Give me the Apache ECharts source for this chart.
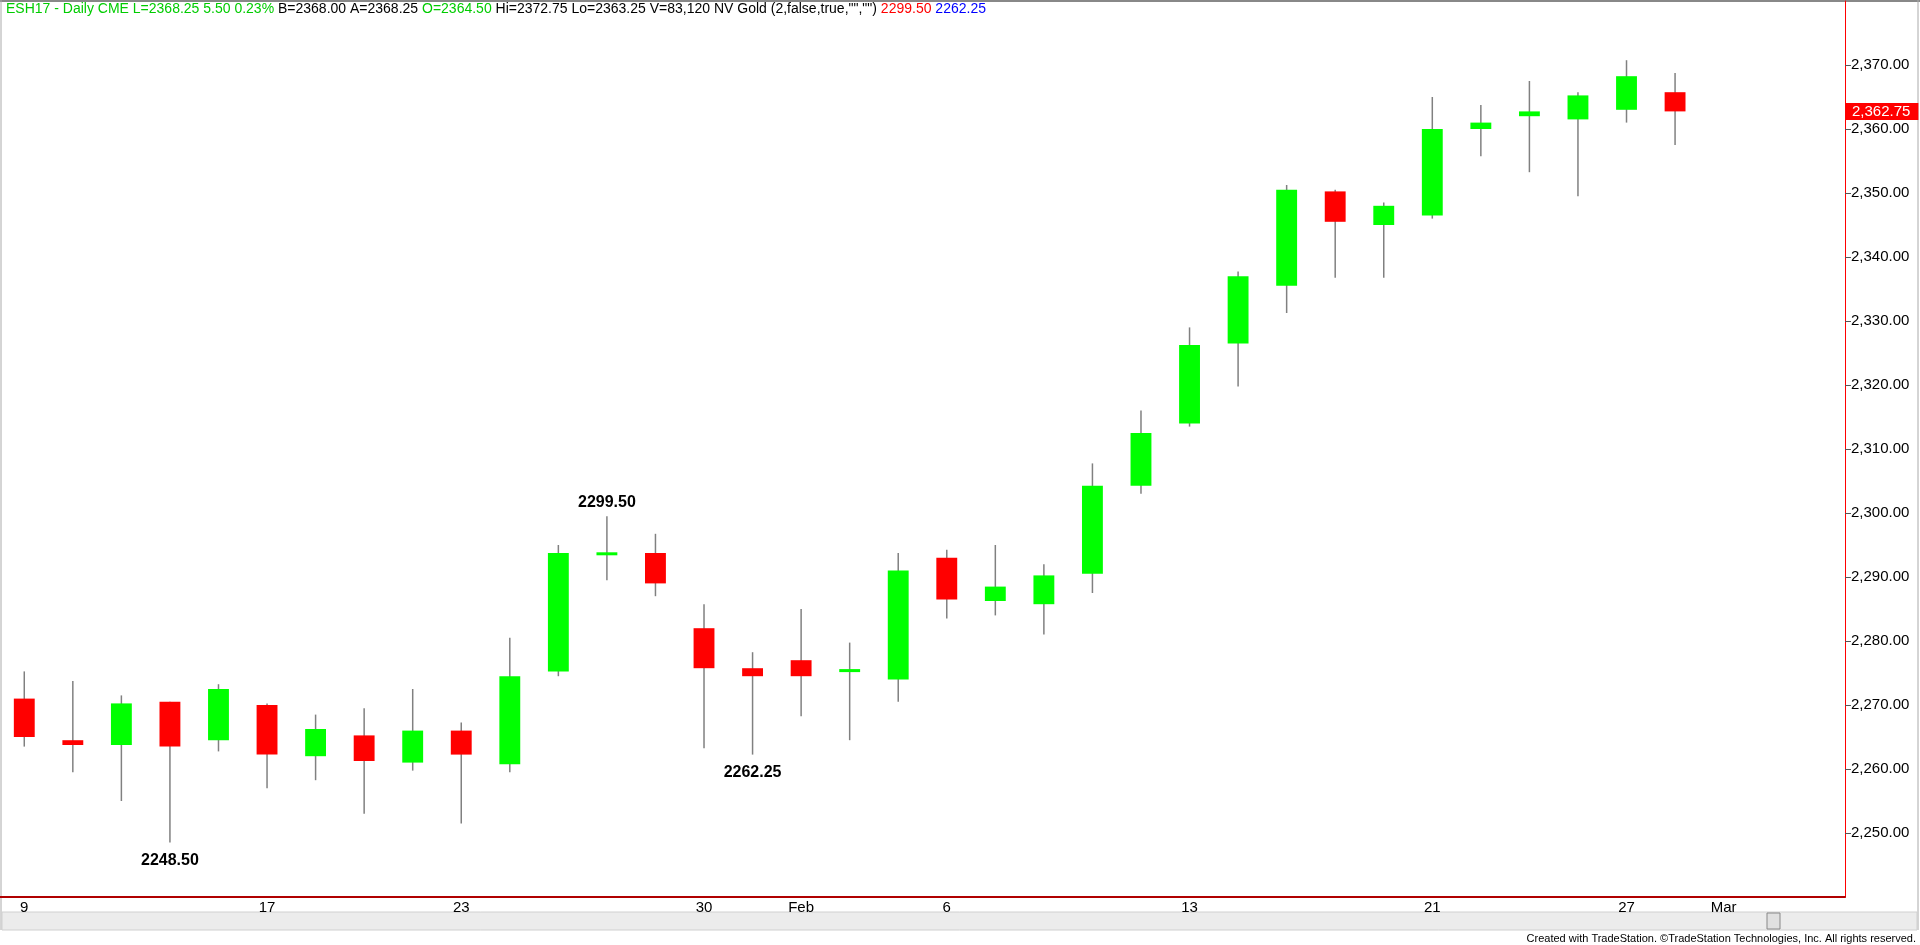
<!DOCTYPE html>
<html><head><meta charset="utf-8">
<script src="https://cdn.jsdelivr.net/npm/echarts@6/dist/echarts.min.js"></script>
<style>html,body{margin:0;padding:0;background:#fff;}#c{width:1920px;height:945px;}</style>
</head><body><div id="c"></div>
<script>
const categories = ["9","10","11","12","13a","17","18","19","20","23","24","25","26","27a","30","31","Feb","2","3","6","7","8","9b","10b","13","14","15","16","17b","21","22","23b","24b","27","28","Mar","2m","3m"];
const shownLabels = {"9":"9","17":"17","23":"23","30":"30","Feb":"Feb","6":"6","13":"13","21":"21","27":"27","Mar":"Mar"};
const opens  = [2271,2264.5,2263.75,2270.5,2264.5,2270,2262,2265.25,2261,2266,2260.75,2275.25,2293.5,2293.75,2282,2275.75,2277,2275.25,2274,2293,2286.25,2285.75,2290.5,2304.25,2314,2326.5,2335.5,2350.25,2345,2346.5,2360,2362,2361.5,2363,2365.75];
const closes = [2265,2263.75,2270.25,2263.5,2272.5,2262.25,2266.25,2261.25,2266,2262.25,2274.5,2293.75,2293.75,2289,2275.75,2274.5,2274.5,2275.5,2291,2286.5,2288.5,2290.25,2304.25,2312.5,2326.25,2337,2350.5,2345.5,2348,2360,2361,2362.75,2365.25,2368.25,2362.75];
const highs  = [2275.25,2273.75,2271.5,2270.5,2273.25,2270.25,2268.5,2269.5,2272.5,2267.25,2280.5,2295,2299.5,2296.75,2285.75,2278.25,2285,2279.75,2293.75,2294.25,2295,2292,2307.75,2316,2329,2337.75,2351.25,2350.5,2348.5,2365,2363.75,2367.5,2365.75,2370.75,2368.75];
const lows   = [2263.5,2259.5,2255,2248.5,2262.75,2257,2258.25,2253,2259.75,2251.5,2259.5,2274.5,2289.5,2287,2263.25,2262.25,2268.25,2264.5,2270.5,2283.5,2284,2281,2287.5,2303,2313.5,2319.75,2331.25,2336.75,2336.75,2346,2355.75,2353.25,2349.5,2361,2357.5];
const yTicksMin = 2240, yTicksMax = 2380, yStep = 10;
const lastPrice = 2362.75;
const notes = [{i:12,v:2299.5,t:"2299.50",pos:"top"},{i:3,v:2248.5,t:"2248.50",pos:"bottom"},{i:15,v:2262.25,t:"2262.25",pos:"bottom"}];

const data = opens.map((o,i)=>[i,o,closes[i],lows[i],highs[i]]);
const chart = echarts.init(document.getElementById('c'));
const F = '"Liberation Sans", Arial, sans-serif';
const fmt = v=>v.toLocaleString('en-US',{minimumFractionDigits:2,maximumFractionDigits:2});
const staticGraphics = [
    {type:'line',shape:{x1:0,y1:1,x2:1920,y2:1},style:{stroke:'#888',lineWidth:2}},
    {type:'line',shape:{x1:1,y1:0,x2:1,y2:930},style:{stroke:'#aaa',lineWidth:1}},
    {type:'line',shape:{x1:1918,y1:0,x2:1918,y2:930},style:{stroke:'#aaa',lineWidth:1}},
    {type:'rect',shape:{x:2,y:912,width:1915,height:18},style:{fill:'#ececec',stroke:'#d0d0d0'}},
    {type:'rect',shape:{x:1767,y:913,width:13,height:16},style:{fill:'#e0e0e0',stroke:'#888'}},
    {type:'text',left:6,top:2,style:{rich:{g:{fill:'#00cc00'},b:{fill:'#000'},r:{fill:'#ff0000'},u:{fill:'#0000ff'}},
      text:'{g|ESH17 - Daily CME L=2368.25 5.50 0.23%} {b|B=2368.00 A=2368.25} {g|O=2364.50} {b|Hi=2372.75 Lo=2363.25 V=83,120 NV Gold (2,false,true,"","")} {r|2299.50} {u|2262.25}',
      font:'14px "Liberation Sans", Arial',fill:'#000'}},
    {type:'text',right:4,bottom:1,style:{text:'Created with TradeStation. ©TradeStation Technologies, Inc. All rights reserved.',font:'11px "Liberation Sans", Arial',fill:'#000'}}
];
chart.setOption({
  animation:false,
  grid:{left:0,right:75,top:1,bottom:48},
  xAxis:{type:'category',data:categories,boundaryGap:true,
    axisLine:{lineStyle:{color:'#b00000',width:2}},
    axisTick:{alignWithLabel:true,length:6,lineStyle:{color:'#cc0000'},interval:(i,v)=>!!shownLabels[v]},
    axisLabel:{interval:(i,v)=>!!shownLabels[v],formatter:v=>shownLabels[v]||'',color:'#000',fontFamily:F,fontSize:15,margin:3},
    splitLine:{show:false}},
  yAxis:{type:'value',position:'right',min:yTicksMin,max:yTicksMax,interval:yStep,
    axisLine:{show:true,lineStyle:{color:'#ff0000',width:1}},
    axisTick:{show:true,length:6,lineStyle:{color:'#555'}},
    axisLabel:{color:'#000',fontFamily:F,fontSize:15,margin:6,showMinLabel:false,showMaxLabel:false,formatter:fmt},
    splitLine:{show:false}},
  series:[{
    type:'custom',
    data:data,
    encode:{x:0,y:[1,2,3,4]},
    renderItem:(params,api)=>{
      const x=api.value(0),o=api.value(1),c=api.value(2),l=api.value(3),h=api.value(4);
      const pH=api.coord([x,h]),pL=api.coord([x,l]),pO=api.coord([x,o]),pC=api.coord([x,c]);
      const w=api.size([1,0])[0]*0.43;
      const raw=Math.abs(pO[1]-pC[1]);
      const ht=Math.max(raw,3);
      const top=Math.min(pO[1],pC[1])-(ht>raw?(ht-raw)/2:0);
      return {type:'group',children:[
        {type:'line',shape:{x1:pH[0],y1:pH[1],x2:pL[0],y2:pL[1]},style:{stroke:'#808080',lineWidth:1.5}},
        {type:'rect',shape:{x:pH[0]-w/2,y:top,width:w,height:ht},style:{fill:c>=o?'#00ff00':'#ff0000'}}
      ]};
    },
    markPoint:{symbol:'rect',symbolSize:0,silent:true,
      data:notes.map(n=>({coord:[n.i,n.v],label:{show:true,formatter:n.t,position:n.pos,distance:n.pos==='top'?6:10,color:'#000',fontWeight:'bold',fontSize:16,fontFamily:F}}))}
  }],
  graphic:staticGraphics
});
const py = chart.convertToPixel({yAxisIndex:0}, lastPrice);
chart.setOption({graphic:staticGraphics.concat([
  {type:'text',x:1846,y:py,style:{text:fmt(lastPrice),font:'15px "Liberation Sans", Arial',fill:'#fff',backgroundColor:'#ff0000',padding:[1,8,1,6],verticalAlign:'middle',align:'left'}}
])});
</script></body></html>
